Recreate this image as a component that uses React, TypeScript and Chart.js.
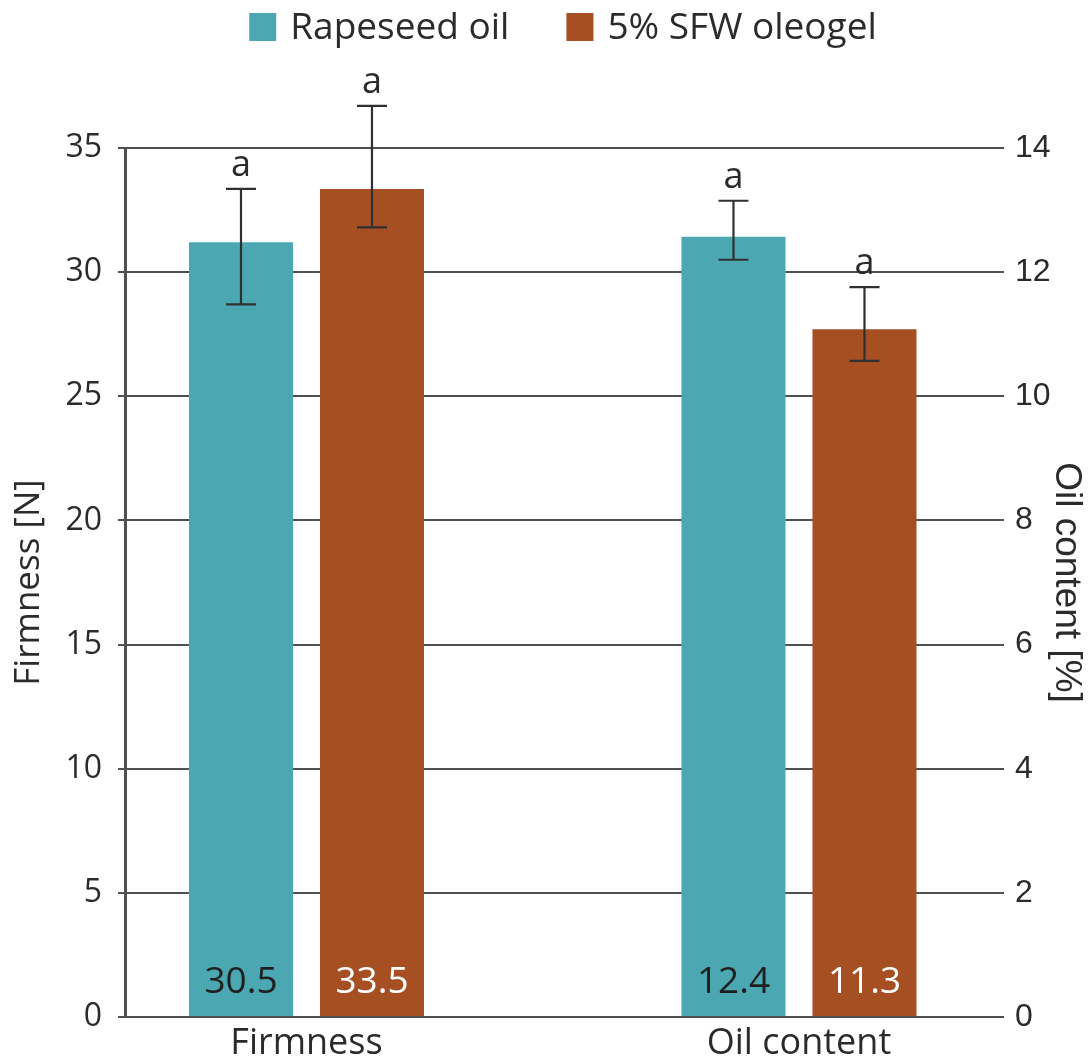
import React, { useEffect, useRef } from "react";
import { Chart, registerables } from "chart.js";

Chart.register(...registerables);

// ---- data ----
const categories = ["Firmness", "Oil content"];
const seriesNames = ["Rapeseed oil", "5% SFW oleogel"];
const rapeseedValues = [31.2, 12.57];
const sfwValues = [33.35, 11.08];
const rapeseedErrLow = [28.7, 12.2];
const rapeseedErrHigh = [33.35, 13.15];
const sfwErrLow = [31.8, 10.57];
const sfwErrHigh = [36.7, 11.76];
const rapeseedLabels = ["30.5", "12.4"];
const sfwLabels = ["33.5", "11.3"];
const rapeseedLetters = ["a", "a"];
const sfwLetters = ["a", "a"];
const leftTicks = [0, 5, 10, 15, 20, 25, 30, 35];
const rightTicks = [0, 2, 4, 6, 8, 10, 12, 14];

const TEAL = "#4BA8B2";
const BROWN = "#A54F23";
const INK = "#2b2b2b";
const GRID = "#505050";
const SANS = "'Open Sans', 'Noto Sans', sans-serif";
const ARIAL = "'Liberation Sans', Arial, sans-serif";

const categoryAxes = ["y", "y1"];

type SeriesDef = {
  name: string;
  color: string;
  labelColor: string;
  values: number[];
  low: number[];
  high: number[];
  labels: string[];
  letters: string[];
};

const series: SeriesDef[] = [
  {
    name: seriesNames[0],
    color: TEAL,
    labelColor: "#1f1f1f",
    values: rapeseedValues,
    low: rapeseedErrLow,
    high: rapeseedErrHigh,
    labels: rapeseedLabels,
    letters: rapeseedLetters,
  },
  {
    name: seriesNames[1],
    color: BROWN,
    labelColor: "#ffffff",
    values: sfwValues,
    low: sfwErrLow,
    high: sfwErrHigh,
    labels: sfwLabels,
    letters: sfwLetters,
  },
];

function buildDatasets() {
  const out: any[] = [];
  series.forEach((s) => {
    categories.forEach((_, j) => {
      out.push({
        label: s.name,
        yAxisID: categoryAxes[j],
        backgroundColor: s.color,
        borderWidth: 0,
        skipNull: true,
        categoryPercentage: 0.532,
        barPercentage: 0.794,
        data: categories.map((__, k) => ({ x: k, y: k === j ? s.values[j] : null })),
        _err: { low: s.low[j], high: s.high[j], label: s.labels[j], labelColor: s.labelColor, letter: s.letters[j], cat: j },
      });
    });
  });
  return out;
}

const overlayPlugin = {
  id: "overlay",
  afterDatasetsDraw(chart: any) {
    const ctx = chart.ctx as CanvasRenderingContext2D;
    chart.data.datasets.forEach((ds: any, di: number) => {
      const meta = chart.getDatasetMeta(di);
      const info = ds._err;
      const bar = meta.data[info.cat];
      if (!bar) return;
      const yScale = chart.scales[ds.yAxisID];
      const x = bar.x;
      const yHi = yScale.getPixelForValue(info.high);
      const yLo = yScale.getPixelForValue(info.low);
      ctx.save();
      ctx.strokeStyle = "#303030";
      ctx.lineWidth = 2.2;
      ctx.beginPath();
      ctx.moveTo(x, yHi);
      ctx.lineTo(x, yLo);
      ctx.moveTo(x - 15, yHi);
      ctx.lineTo(x + 15, yHi);
      ctx.moveTo(x - 15, yLo);
      ctx.lineTo(x + 15, yLo);
      ctx.stroke();
      // significance letter
      ctx.fillStyle = INK;
      ctx.font = `36px ${SANS}`;
      ctx.textAlign = "center";
      ctx.textBaseline = "alphabetic";
      ctx.fillText(info.letter, x, yHi - 13);
      // value label inside bar bottom
      ctx.fillStyle = info.labelColor;
      ctx.font = `37px ${SANS}`;
      ctx.fillText(info.label, x, chart.chartArea.bottom - 24);
      ctx.restore();
    });
  },
  afterDraw(chart: any) {
    const ctx = chart.ctx as CanvasRenderingContext2D;
    const area = chart.chartArea;
    ctx.save();
    ctx.font = `37px ${SANS}`;
    const box = 27;
    const gap = 14;
    const spacing = 57;
    const widths = series.map((s) => box + gap + ctx.measureText(s.name).width);
    const total = widths.reduce((a, b) => a + b, 0) + spacing * (series.length - 1);
    let x = (area.left + area.right) / 2 - total / 2;
    const cy = 27;
    series.forEach((s, i) => {
      ctx.fillStyle = s.color;
      ctx.fillRect(x, cy - 14, box, 28);
      ctx.fillStyle = INK;
      ctx.textAlign = "left";
      ctx.textBaseline = "middle";
      ctx.fillText(s.name, x + box + gap, cy + 1);
      x += widths[i] + spacing;
    });
    ctx.restore();
  },
};

export default function App() {
  const ref = useRef<HTMLCanvasElement | null>(null);
  useEffect(() => {
    document.body.style.margin = "0";
    const canvas = ref.current;
    if (!canvas) return;
    const chart = new Chart(canvas, {
      type: "bar",
      data: { datasets: buildDatasets() },
      plugins: [overlayPlugin],
      options: {
        responsive: false,
        animation: false,
        devicePixelRatio: 1,
        layout: { padding: { top: 148, left: 0, right: 0, bottom: 0 } },
        plugins: { legend: { display: false }, tooltip: { enabled: false } },
        scales: {
          x: {
            type: "linear",
            min: -0.3685,
            max: 1.4102,
            offset: false,
            grid: { display: false, offset: false, drawTicks: false },
            border: { display: false },
            afterBuildTicks: (s: any) => {
              s.ticks = categories.map((_, i) => ({ value: i }));
            },
            afterFit: (s: any) => {
              s.height = 47;
            },
            ticks: {
              autoSkip: false,
              maxRotation: 0,
              padding: 5,
              color: INK,
              font: { family: SANS, size: 36 },
              callback: (v: any) => categories[Math.round(Number(v))] ?? "",
            },
          },
          y: {
            type: "linear",
            position: "left",
            min: 0,
            max: 35,
            afterBuildTicks: (s: any) => {
              s.ticks = leftTicks.map((v) => ({ value: v }));
            },
            afterFit: (s: any) => {
              s.width = 125;
            },
            grid: { color: GRID, lineWidth: 2, tickLength: 7 },
            border: { display: true, color: GRID, width: 3 },
            ticks: { padding: 16, color: INK, font: { family: SANS, size: 32 } },
            title: {
              display: true,
              text: "Firmness [N]",
              color: INK,
              font: { family: SANS, size: 35 },
              padding: { top: 8, bottom: 0 },
            },
          },
          y1: {
            type: "linear",
            position: "right",
            min: 0,
            max: 14,
            afterBuildTicks: (s: any) => {
              s.ticks = rightTicks.map((v) => ({ value: v }));
            },
            afterFit: (s: any) => {
              s.width = 87;
            },
            grid: { drawOnChartArea: false, color: GRID, lineWidth: 2, tickLength: 3 },
            border: { display: false },
            ticks: { padding: 11, color: INK, font: { family: ARIAL, size: 32 } },
            title: {
              display: true,
              text: "Oil content [%]",
              color: INK,
              font: { family: ARIAL, size: 37 },
              padding: { top: 0, bottom: 0 },
            },
          },
        },
      } as any,
    });
    return () => chart.destroy();
  }, []);
  return (
    <div style={{ width: 1088, height: 1064 }}>
      <canvas ref={ref} width={1088} height={1064} style={{ display: "block" }} />
    </div>
  );
}
